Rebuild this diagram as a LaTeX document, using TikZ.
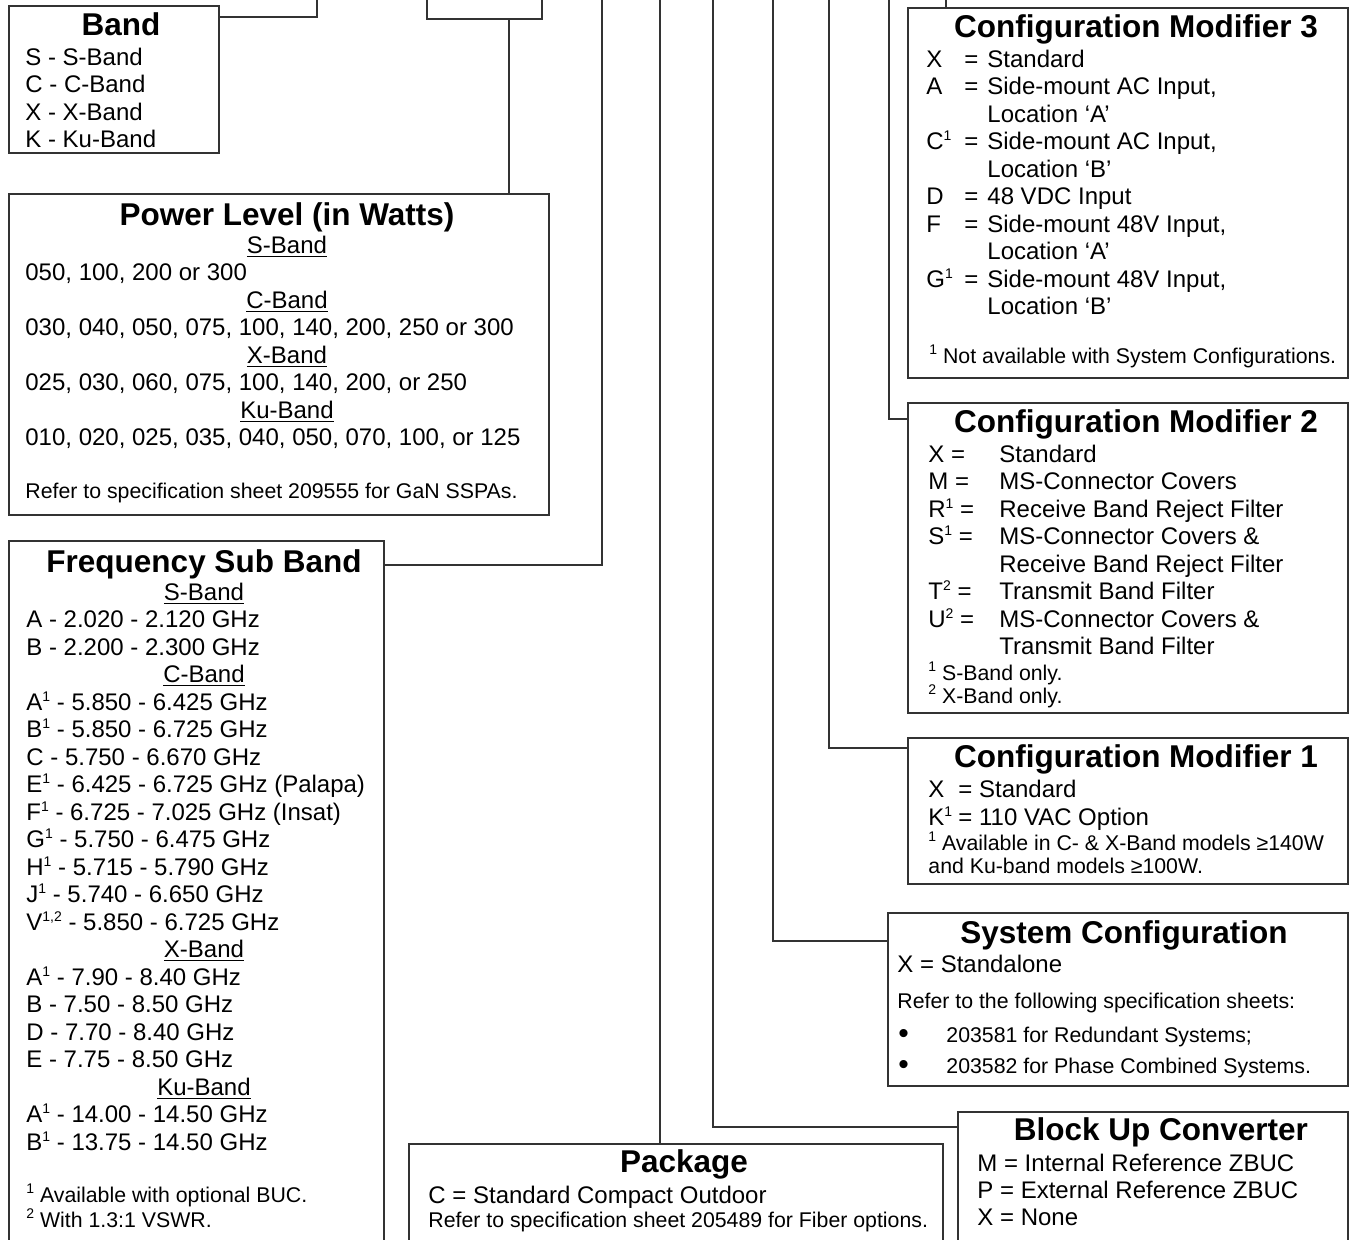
\documentclass[tikz,border=0pt]{standalone}
\usepackage{fontspec}
\setmainfont{Liberation Sans}
\definecolor{linegray}{gray}{0.2}
\newcommand{\titlefont}{\fontsize{15.75}{18}\selectfont\bfseries}
\newcommand{\bodyfont}{\fontsize{12}{14}\selectfont}
\newcommand{\notefont}{\fontsize{10.65}{12.5}\selectfont}
\newcommand{\fn}[1]{\raisebox{4.3pt}{\fontsize{7}{8}\selectfont #1}}
\begin{document}
\begin{tikzpicture}[x=0.5pt,y=-0.5pt,
  specbox/.style={draw=linegray,line width=1pt,inner sep=0pt,anchor=north west},
  boxtitle/.style={font=\titlefont,anchor=base,inner sep=0pt},
  item/.style={font=\bodyfont,anchor=base west,inner sep=0pt},
  note/.style={font=\notefont,anchor=base west,inner sep=0pt},
  bandhead/.style={font=\bodyfont,anchor=base,inner sep=0pt},
  link/.style={draw=linegray,line width=1pt}]
\useasboundingbox (0,0) rectangle (1349,1239);
\clip (0,0) rectangle (1349,1239);

% boxes
\node[specbox,minimum width=105pt,minimum height=73.5pt] (band) at (8,5) {};
\node[specbox,minimum width=57.5pt,minimum height=19pt] (model) at (426,-20) {};
\node[specbox,minimum width=270pt,minimum height=160.5pt] (power) at (8,193) {};
\node[specbox,minimum width=187.5pt,minimum height=360pt] (fsb) at (8,540) {};
\node[specbox,minimum width=267pt,minimum height=60pt] (package) at (408,1143) {};
\node[specbox,minimum width=195pt,minimum height=75pt] (buc) at (957,1111) {};
\node[specbox,minimum width=230pt,minimum height=86.5pt] (sys) at (887,912) {};
\node[specbox,minimum width=220pt,minimum height=73pt] (cmone) at (907,737) {};
\node[specbox,minimum width=220pt,minimum height=155pt] (cmtwo) at (907,402) {};
\node[specbox,minimum width=220pt,minimum height=185pt] (cmthree) at (907,7) {};

% connectors
\coordinate (top1) at (317,0);
\coordinate (top2) at (602,0);
\coordinate (top3) at (660,0);
\coordinate (top4) at (713,0);
\coordinate (top5) at (773,0);
\coordinate (top6) at (829,0);
\coordinate (top7) at (889,0);
\coordinate (top8) at (946,0);
\draw[link] ([yshift=-6pt]band.north east) -| (top1);
\draw[link] ([xshift=12.25pt]model.south) -- ([xshift=12.25pt]model.south |- power.north);
\draw[link] ([yshift=-12.5pt]fsb.north east) -| (top2);
\draw[link] (top3) -- (top3 |- package.north);
\draw[link] (top4) |- ([yshift=-8pt]buc.north west);
\draw[link] (top5) |- ([yshift=-14.5pt]sys.north west);
\draw[link] (top6) |- ([yshift=-5.5pt]cmone.north west);
\draw[link] (top7) |- ([yshift=-8.5pt]cmtwo.north west);
\draw[link] (top8) -- (top8 |- cmthree.north);

% band
\node[boxtitle] (bandtitle) at (121,35) {Band};
\foreach \txt [count=\i] in {S - S-Band, C - C-Band, X - X-Band, K - Ku-Band}
  \node[item] (band\i) at (25,37.5+27.6*\i) {\txt};

% power level
\node[boxtitle] (powertitle) at (287,225) {Power Level (in Watts)};
\foreach \i/\txt in {0/S-Band,2/C-Band,4/X-Band,6/Ku-Band}
  \node[bandhead] (powerhead\i) at (287,253+27.5*\i) {\underline{\txt}};
\foreach \i/\txt in {1/{050, 100, 200 or 300},
    3/{030, 040, 050, 075, 100, 140, 200, 250 or 300},
    5/{025, 030, 060, 075, 100, 140, 200, or 250},
    7/{010, 020, 025, 035, 040, 050, 070, 100, or 125}}
  \node[item] (powerline\i) at (25,253+27.5*\i) {\txt};
\node[note] (powernote) at (25,498) {Refer to specification sheet 209555 for GaN SSPAs.};

% frequency sub band
\node[boxtitle] (fsbtitle) at (204,572) {Frequency Sub Band};
\foreach \i/\txt in {0/S-Band,3/C-Band,13/X-Band,18/Ku-Band}
  \node[bandhead] (fsbhead\i) at (204,600+27.5*\i) {\underline{\txt}};
\foreach \i/\txt in {1/{A - 2.020 - 2.120 GHz}, 2/{B - 2.200 - 2.300 GHz},
    4/{A\fn{1} - 5.850 - 6.425 GHz}, 5/{B\fn{1} - 5.850 - 6.725 GHz},
    6/{C - 5.750 - 6.670 GHz}, 7/{E\fn{1} - 6.425 - 6.725 GHz (Palapa)},
    8/{F\fn{1} - 6.725 - 7.025 GHz (Insat)}, 9/{G\fn{1} - 5.750 - 6.475 GHz},
    10/{H\fn{1} - 5.715 - 5.790 GHz}, 11/{J\fn{1} - 5.740 - 6.650 GHz},
    12/{V\fn{1,2} - 5.850 - 6.725 GHz},
    14/{A\fn{1} - 7.90 - 8.40 GHz}, 15/{B - 7.50 - 8.50 GHz},
    16/{D - 7.70 - 8.40 GHz}, 17/{E - 7.75 - 8.50 GHz},
    19/{A\fn{1} - 14.00 - 14.50 GHz}, 20/{B\fn{1} - 13.75 - 14.50 GHz}}
  \node[item] (fsbline\i) at (26,600+27.5*\i) {\txt};
\node[note] (fsbnote1) at (26,1202) {\fn{1} Available with optional BUC.};
\node[note] (fsbnote2) at (26,1227) {\fn{2} With 1.3:1 VSWR.};

% package
\node[boxtitle] (packtitle) at (684,1172) {Package};
\node[item] (pack1) at (428,1203) {C = Standard Compact Outdoor};
\node[note] (pack2) at (428,1227) {Refer to specification sheet 205489 for Fiber options.};

% block up converter
\node[boxtitle] (buctitle) at (1161,1140) {Block Up Converter};
\foreach \txt [count=\i from 0] in {M = Internal Reference ZBUC, P = External Reference ZBUC, X = None}
  \node[item] (buc\i) at (977,1171+27*\i) {\txt};

% system configuration
\node[boxtitle] (systitle) at (1124,943) {System Configuration};
\node[item] (sys1) at (897,972) {X = Standalone};
\node[note] (sys2) at (897,1008) {Refer to the following specification sheets:};
\node[item,font=\fontsize{15}{16}\selectfont] (bullet1) at (898,1043) {•};
\node[note] (sys3) at (946,1042) {203581 for Redundant Systems;};
\node[item,font=\fontsize{15}{16}\selectfont] (bullet2) at (898,1074) {•};
\node[note] (sys4) at (946,1073) {203582 for Phase Combined Systems.};

% configuration modifier 1
\node[boxtitle] (cmonetitle) at (1136,767) {Configuration Modifier 1};
\node[item] (cmonekey1) at (928,797) {X};
\node[item] (cmoneval1) at (958,797) {= Standard};
\node[item] (cmonekey2) at (928,825) {K\fn{1}};
\node[item] (cmoneval2) at (958,825) {= 110 VAC Option};
\node[note] (cmonenote1) at (928,850) {\fn{1} Available in C- \& X-Band models ≥140W};
\node[note] (cmonenote2) at (928,873) {and Ku-band models ≥100W.};

% configuration modifier 2
\node[boxtitle] (cmtwotitle) at (1136,432) {Configuration Modifier 2};
\foreach \i/\key in {0/X,1/M,2/R\fn{1},3/S\fn{1},5/T\fn{2},6/U\fn{2}}
  \node[item] (cmtwokey\i) at (928,462+27.5*\i) {\key\ =};
\foreach \i/\txt in {0/Standard, 1/MS-Connector Covers, 2/Receive Band Reject Filter,
    3/MS-Connector Covers \&, 4/Receive Band Reject Filter, 5/Transmit Band Filter,
    6/MS-Connector Covers \&, 7/Transmit Band Filter}
  \node[item] (cmtwoval\i) at (999,462+27.5*\i) {\txt};
\node[note] (cmtwonote1) at (928,680) {\fn{1} S-Band only.};
\node[note] (cmtwonote2) at (928,703) {\fn{2} X-Band only.};

% configuration modifier 3
\node[boxtitle] (cmthreetitle) at (1136,37) {Configuration Modifier 3};
\foreach \i/\key in {0/X,1/A,3/C\fn{1},5/D,6/F,8/G\fn{1}}
  {\node[item] (cmthreekey\i) at (926,67+27.5*\i) {\key};
   \node[item] (cmthreeeq\i) at (964,67+27.5*\i) {=};}
\foreach \i/\txt in {0/Standard, 1/{Side-mount AC Input,}, 2/{Location `A'},
    3/{Side-mount AC Input,}, 4/{Location `B'}, 5/48 VDC Input,
    6/{Side-mount 48V Input,}, 7/{Location `A'}, 8/{Side-mount 48V Input,}, 9/{Location `B'}}
  \node[item] (cmthreeval\i) at (987,67+27.5*\i) {\txt};
\node[note] (cmthreenote) at (929,363) {\fn{1} Not available with System Configurations.};
\end{tikzpicture}
\end{document}
